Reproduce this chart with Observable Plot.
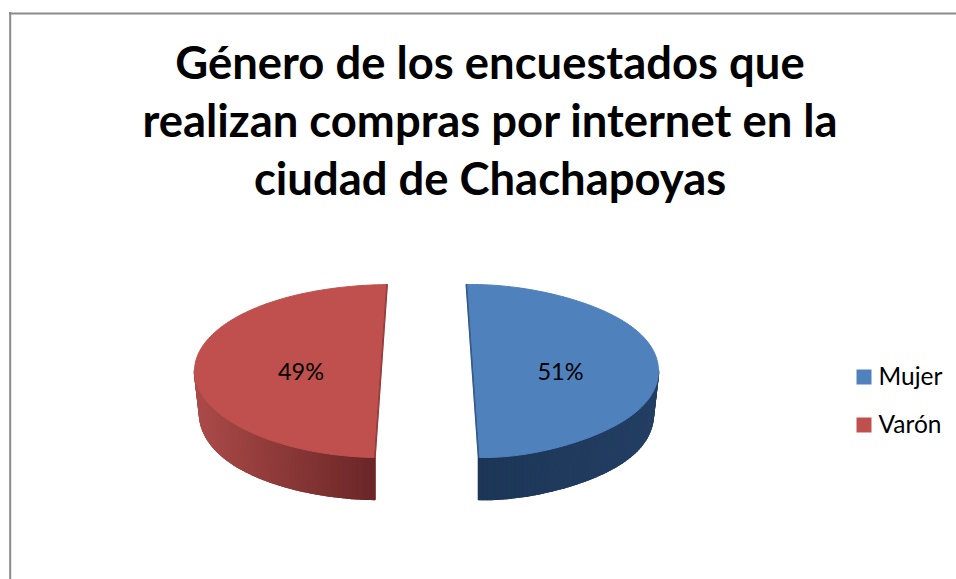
<!DOCTYPE html>
<html>
<head>
<meta charset="utf-8">
<script src="https://cdn.jsdelivr.net/npm/d3@7"></script>
<script src="https://cdn.jsdelivr.net/npm/@observablehq/plot@0.6"></script>
<style>
html,body{margin:0;padding:0;background:#fff;overflow:hidden}
svg{display:block}
</style>
</head>
<body>
<div id="chart"></div>
<script>
const categories = ["Mujer", "Varón"];
const shares = [51, 49];
const topColors = ["#4f81bd", "#c0504d"];
const sideStart = ["#1d3658", "#ab4b49"];
const sideEnd = ["#233f63", "#6b2627"];
const titleLines = [
  "Género de los encuestados que",
  "realizan compras por internet en la",
  "ciudad de Chachapoyas"
];
const titleY = [64, 122, 180];
const legendY = [376.5, 424.5];

const W = 956, H = 579;
const cx = 426, cy = 370.5, b = 86.5, depth = 42;
const radius = [181, 192.5];
const explode = [51, 39.5];
const flatten = [0.12, 0];
const lean = 6.5;
const rad = Math.PI / 180;

function project(i, deg, dy = 0) {
  const dir = i === 0 ? 1 : -1;
  const s = Math.sin(deg * rad), c = Math.cos(deg * rad);
  const f = s * (1 - flatten[i] * (1 - s * s) ** 2);
  const tipPull = dy > 0 ? 5 * Math.abs(s) ** 6 : 0;
  const fade = (1 - Math.abs(s)) ** 2;
  const x = cx + dir * explode[i] + radius[i] * f - dir * tipPull - dir * lean * c * fade;
  return { x, y: cy - b * c + dy };
}
const total = d3.sum(shares);
const slices = categories.map((name, i) => {
  const span = shares[i] / total * 360;
  const mid = i === 0 ? 90 : 270;
  const start = mid - span / 2, end = mid + span / 2;
  const n = 120;
  const degs = d3.range(n + 1).map(j => start + (end - start) * j / n);
  return { name, i, start, end, degs };
});

const marks = [
  Plot.ruleX([9.7], { y1: 12, y2: H, stroke: "#8a8a8a", strokeWidth: 2 }),
  Plot.ruleY([13], { x1: 9, x2: W, stroke: "#8a8a8a", strokeWidth: 2 })
];

slices.forEach(s => {
  const i = s.i;
  const front = s.degs.filter(d => Math.cos(d * rad) < 0.02);
  const ramp = d3.interpolateRgb(sideStart[i], sideEnd[i]);
  const xs = front.map(d => project(i, d).x);
  const xMin = d3.min(xs), xMax = d3.max(xs);
  // solid wall beneath the shaded strips, so no seams show through
  const base = [
    ...front.map(d => project(i, d)),
    ...front.slice().reverse().map(d => project(i, d, depth))
  ];
  marks.push(Plot.line(base, { x: "x", y: "y", fill: ramp(0.5), stroke: ramp(0.5), curve: "linear-closed" }));
  const strips = [];
  for (let j = 0; j < front.length - 1; j++) {
    const a = front[j], c = front[j + 1];
    const t = ((xs[j] + xs[j + 1]) / 2 - xMin) / (xMax - xMin);
    const colour = ramp(t);
    [[a, 0], [c, 0], [c, depth], [a, depth]].forEach(([d, dy]) => {
      const p = project(i, d, dy);
      strips.push({ x: p.x, y: p.y, z: j, colour });
    });
  }
  marks.push(Plot.line(strips, { x: "x", y: "y", z: "z", fill: "colour", stroke: "colour", strokeWidth: 1.5, curve: "linear-closed" }));
  const face = s.degs.map(d => project(i, d));
  marks.push(Plot.line(face, { x: "x", y: "y", fill: topColors[i], stroke: topColors[i], strokeWidth: 1, curve: "linear-closed" }));
  const edge = [s.start, s.end].map(d => project(i, d));
  marks.push(Plot.line(edge, { x: "x", y: "y", stroke: i === 0 ? "#1d3658" : "#6b2627", strokeOpacity: 0.6, strokeWidth: 1.5 }));
});

const labels = [{ t: shares[0] + "%", x: 560 }, { t: shares[1] + "%", x: 300.5 }];
marks.push(Plot.text(labels, { x: "x", y: () => 372, text: "t", fontSize: 23.5, fill: "#000", fontFamily: "Lato" }));

marks.push(Plot.text(titleLines, {
  x: () => 489.5, y: (d, i) => titleY[i], text: d => d,
  fontSize: 45.4, fontWeight: 700, fill: "#000", fontFamily: "Lato"
}));

marks.push(Plot.dot(categories, {
  x: () => 863.5, y: (d, i) => legendY[i], symbol: "square", r: 8.46,
  fill: (d, i) => topColors[i], stroke: null
}));
marks.push(Plot.text(categories, {
  x: () => 878, y: (d, i) => legendY[i], text: d => d, textAnchor: "start",
  fontSize: 24.5, fill: "#000", fontFamily: "Lato"
}));

const chart = Plot.plot({
  width: W, height: H,
  margin: 0,
  x: { domain: [0, W], range: [0, W], axis: null },
  y: { domain: [0, H], range: [0, H], axis: null },
  color: { type: "identity" },
  marks
});
document.getElementById("chart").append(chart);
</script>
</body>
</html>
